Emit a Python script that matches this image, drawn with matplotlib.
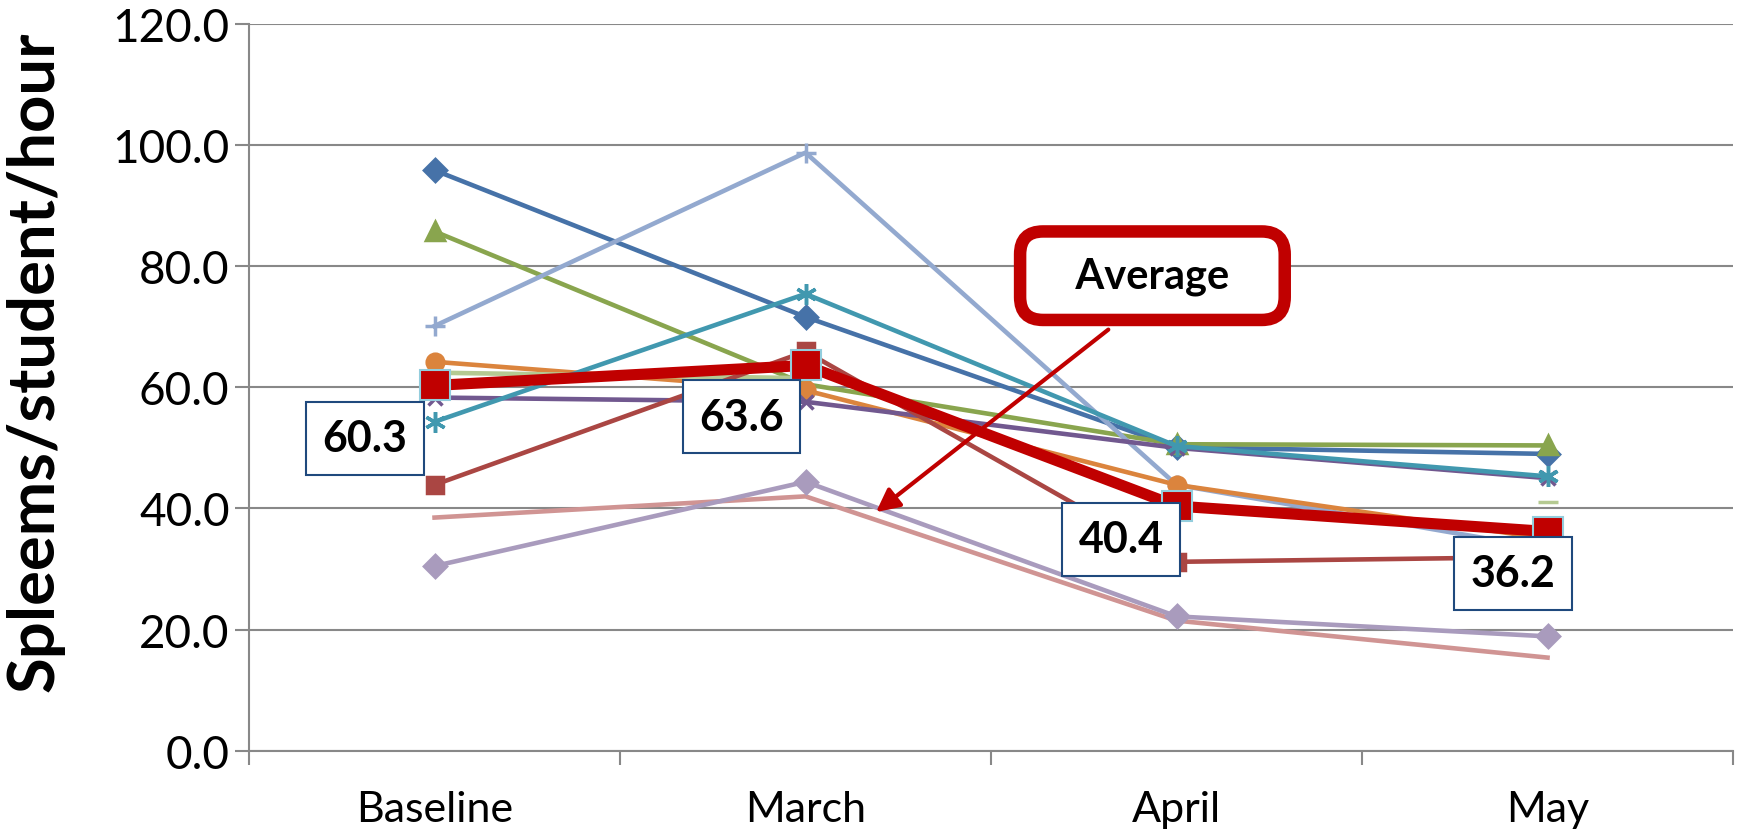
import matplotlib
matplotlib.use('Agg')
import matplotlib.pyplot as plt
import numpy as np

plt.rcParams['font.family'] = ['Lato', 'DejaVu Sans']

months = ['Baseline', 'March', 'April', 'May']

# per-student series
s_blue = [95.8, 71.6, 50.1, 49.0]
s_green = [85.7, 60.5, 50.6, 50.4]
s_ltblue = [70.1, 98.7, 43.9, 33.3]
s_orange = [64.2, 59.5, 43.9, 35.0]
s_ltgreen = [62.4, 61.5, np.nan, 41.1]
s_purple = [58.3, 57.6, 50.0, 45.0]
s_teal = [54.3, 75.4, 50.3, 45.3]
s_darkred = [43.9, 65.9, 31.2, 32.0]
s_pink = [38.5, 42.0, 21.5, 15.4]
s_lavender = [30.5, 44.4, 22.2, 18.9]
average = [60.3, 63.6, 40.4, 36.2]

series = [
    (s_blue, '#4672A8', 'D', 11),
    (s_green, '#89A54E', '^', 13),
    (s_ltblue, '#93A9CF', '+', 14),
    (s_orange, '#DB843D', 'o', 12),
    (s_ltgreen, '#B5CA92', '_', 14),
    (s_purple, '#71588F', 'x', 10),
    (s_teal, '#4198AF', (6, 2, 0), 15),
    (s_darkred, '#AA4643', 's', 12),
    (s_pink, '#D09493', None, 0),
    (s_lavender, '#A99BBD', 'D', 11),
]

fig = plt.figure(figsize=(17.44, 8.37), dpi=100)
ax = fig.add_axes([0.1428, 0.1016, 0.8509, 0.8691])

x = np.arange(len(months)) + 0.5
for vals, col, mk, ms in series:
    ax.plot(x, vals, color=col, lw=3.3, marker=mk, markersize=ms,
            markeredgewidth=2.5, zorder=3)

ax.plot(x, average, color='#C00000', lw=8, marker='s', markersize=22,
        markeredgecolor='#93CDDD', markeredgewidth=1.5, zorder=4)

# value labels for the average
offsets = [(-50, -38), (-46, -37), (-40, -24), (-25, -30)]
for xi, v, off in zip(x, average, offsets):
    ax.annotate(f'{v:.1f}', (xi, v), xytext=off, textcoords='offset points',
                ha='center', va='center', fontsize=31, fontweight='bold',
                bbox=dict(boxstyle='square,pad=0.38', fc='white', ec='#1F497D', lw=1.5),
                zorder=6)

# callout
ax.annotate('   Average   ', xy=(1.69, 39.4), xytext=(2.435, 78.4),
            ha='center', va='center', fontsize=30, fontweight='bold',
            bbox=dict(boxstyle='round,pad=0.6,rounding_size=0.55', fc='white',
                      ec='#C00000', lw=9),
            arrowprops=dict(arrowstyle='-|>', color='#C00000', lw=3,
                            mutation_scale=35, relpos=(0.5, 0), shrinkA=6, shrinkB=0),
            zorder=7)

ax.set_xlim(0, 4)
ax.set_ylim(0, 120)
ax.set_yticks(np.arange(0, 121, 20))
ax.set_yticklabels([f'{t:.1f}' for t in np.arange(0, 121, 20)], fontsize=33)
ax.set_xticks(x)
ax.set_xticklabels(months, fontsize=31)
ax.set_xticks(np.arange(0, 5), minor=True)
ax.tick_params(axis='x', which='major', length=0, pad=28)
ax.tick_params(axis='x', which='minor', length=10, color='#888888', width=1.5)
ax.tick_params(axis='y', length=10, color='#888888', width=1.5, pad=4)

ax.grid(axis='y', color='#888888', lw=1.5)
ax.set_axisbelow(True)
for s in ['top', 'right']:
    ax.spines[s].set_visible(False)
for s in ['left', 'bottom']:
    ax.spines[s].set_color('#888888')
    ax.spines[s].set_linewidth(1.5)

ax.set_ylabel('Spleems/student/hour', fontsize=47, fontweight='bold')
ax.yaxis.set_label_coords(-0.124, 0.537)

fig.savefig('out.png', dpi=100)
